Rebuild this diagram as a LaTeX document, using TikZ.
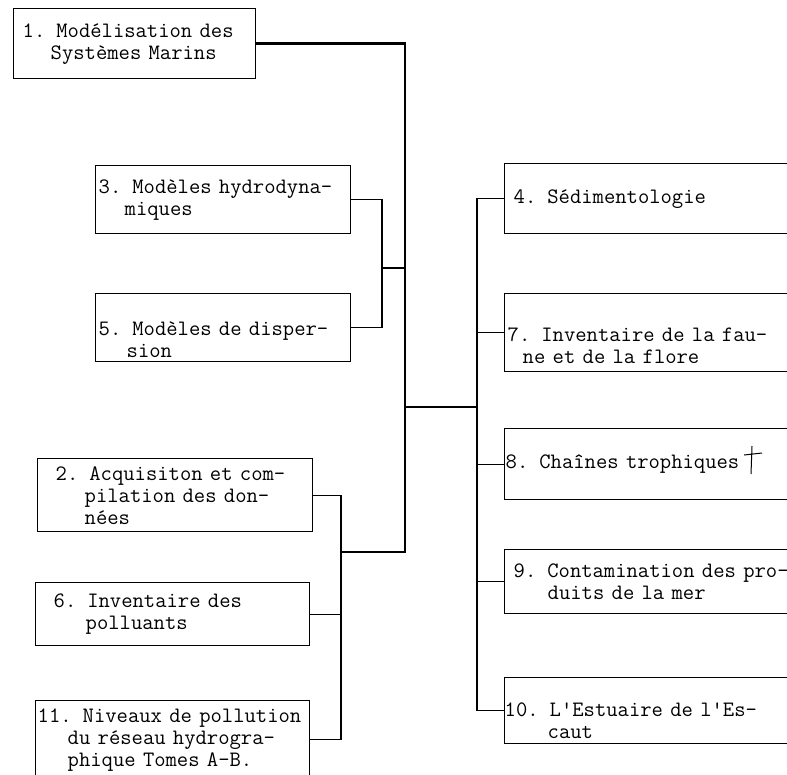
\documentclass[tikz,border=0pt]{standalone}
\usetikzlibrary{calc}
\newcommand{\retrait}[1]{\\\hspace*{#1pt}}

\tikzset{
	rubrique/.style={draw, line width=1.4pt, anchor=north west, align=left, inner ysep=0pt,
		font=\ttfamily\fontsize{22}{22}\selectfont},
	abaisse/.style={execute at begin node={\rule{0pt}{#1pt}}},
	tronc/.style={line width=2.6pt},
	lien/.style={line width=1.3pt}
}

\begin{document}
\begin{tikzpicture}[x=1pt, y=-1pt]
			%%%%% START %%%%%
			\clip (0, 0) rectangle (787, 774);
			
			% colonne de gauche
			\node[rubrique, minimum height=70pt, text width=224pt, inner xsep=9pt] (m1) at (13, 8)
				{1. Modélisation des\retrait{28}Systèmes Marins};
			\node[rubrique, minimum height=68pt, text width=249pt, inner xsep=3pt] (m3) at (95, 165)
				{3. Modèles hydrodyna-\retrait{26}miques};
			\node[rubrique, minimum height=68pt, text width=249pt, inner xsep=3pt, abaisse=37] (m5) at (95, 293)
				{5. Modèles de disper-\retrait{28}sion};
			\node[rubrique, minimum height=73pt, text width=239pt, inner xsep=18pt] (m2) at (37, 458)
				{2. Acquisiton et com-\retrait{29}pilation des don-\retrait{29}nées};
			\node[rubrique, minimum height=63pt, text width=238pt, inner xsep=18pt] (m6) at (35, 582)
				{6. Inventaire des\retrait{32}polluants};
			\node[rubrique, minimum height=78pt, text width=270pt, inner xsep=2pt] (m11) at (35, 700)
				{11. Niveaux de pollution\retrait{30}du réseau hydrogra-\retrait{30}phique Tomes A-B.};
			
			% colonne de droite
			\node[rubrique, minimum height=70pt, text width=282pt, inner xsep=9pt] (m4) at (504, 163)
				{4. Sédimentologie};
			\node[rubrique, minimum height=78pt, text width=294pt, inner xsep=3pt, abaisse=39] (m7) at (504, 293)
				{7. Inventaire de la fau-\retrait{15}ne et de la flore};
			\node[rubrique, minimum height=71pt, text width=298pt, inner xsep=1pt] (m8) at (504, 428)
				{8. Chaînes trophiques};
			\node[rubrique, minimum height=64pt, text width=282pt, inner xsep=9pt] (m9) at (504, 549)
				{9. Contamination des pro-\retrait{34}duits de la mer};
			\node[rubrique, minimum height=66pt, text width=300pt, inner xsep=0pt, abaisse=33] (m10) at (504, 677)
				{10. L'Estuaire de l'Es-\retrait{43}caut};
			
			% petite croix
			\draw[line width=1pt] (744, 455) -- (762, 453) (752, 446) -- (751, 474);
			
			% embranchements
			\coordinate (tc) at (405, 0);
			\coordinate (t35) at (382, 268);
			\coordinate (tg) at (341, 552);
			\coordinate (td) at (477, 407);
			
			\draw[tronc] (m1.east) -| (tc |- tg) -- (tg);
			\draw[tronc] (t35) -- (t35 -| tc);
			\draw[tronc] (td -| tc) -- (td);
			
			\draw[lien] (m3.east) -| (t35) |- (m5.east);
			\draw[lien] (m2.east) -| (tg) |- (m11.east);
			\draw[lien] (m6.east) -- (m6.east -| tg);
			\draw[lien] (m4.west) -| (td) |- (m10.west);
			\foreach \m in {m7, m8, m9}
				\draw[lien] (\m.west) -- (\m.west -| td);
			
			%%%%% END %%%%%
\end{tikzpicture}
\end{document}
